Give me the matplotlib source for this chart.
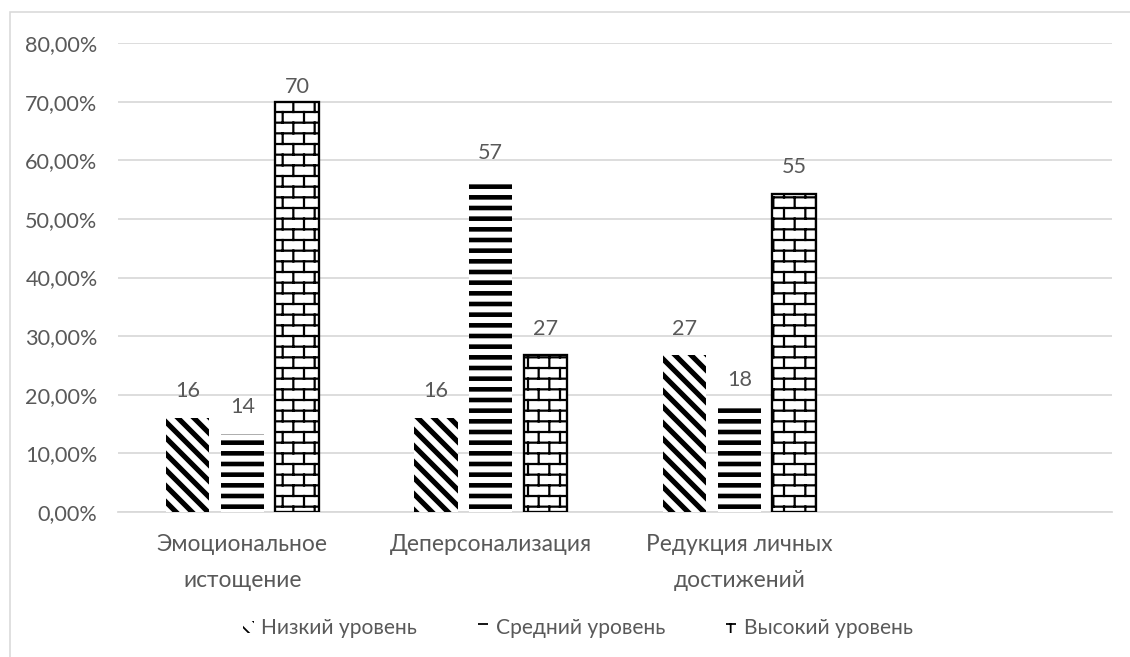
import warnings
warnings.filterwarnings("ignore")
import numpy as np
import matplotlib
matplotlib.use("Agg")
import matplotlib.pyplot as plt
from matplotlib import hatch as mhatch
from matplotlib.path import Path
from matplotlib.ticker import FuncFormatter
from matplotlib.patches import Rectangle

# ---------------- data ----------------
categories = ["Эмоциональное\nистощение", "Деперсонализация", "Редукция личных\nдостижений"]
series_names = ["Низкий уровень", "Средний уровень", "Высокий уровень"]
low_values = [16.0, 16.0, 26.7]
mid_values = [13.3, 56.7, 18.0]
high_values = [70.0, 26.7, 54.3]
low_labels = ["16", "16", "27"]
mid_labels = ["14", "57", "18"]
high_labels = ["70", "27", "55"]
y_ticks = [0, 10, 20, 30, 40, 50, 60, 70, 80]


# ---------------- custom hatches (Excel-like patterns) ----------------
class DiagHatch(mhatch.HatchPatternBase):
    """Thick lines from top-left to bottom-right ('d')."""
    def __init__(self, hatch, density):
        self.m = 8 * hatch.count('d')
        self.num_vertices = (2 * self.m + 1) * 2 if self.m else 0

    def set_vertices_and_codes(self, vertices, codes):
        c = np.arange(2 * self.m + 1) / self.m
        vertices[0::2, 0] = c - 1.5
        vertices[0::2, 1] = 1.5
        vertices[1::2, 0] = c + 1.5
        vertices[1::2, 1] = -1.5
        codes[0::2] = Path.MOVETO
        codes[1::2] = Path.LINETO


class HorizHatch(mhatch.HatchPatternBase):
    """Dense horizontal lines ('h')."""
    def __init__(self, hatch, density):
        self.n = 12 * hatch.count('h')
        self.num_vertices = self.n * 2

    def set_vertices_and_codes(self, vertices, codes):
        y = (np.arange(self.n) + 0.5) / self.n
        vertices[0::2, 0] = -0.1
        vertices[0::2, 1] = y
        vertices[1::2, 0] = 1.1
        vertices[1::2, 1] = y
        codes[0::2] = Path.MOVETO
        codes[1::2] = Path.LINETO


class BrickHatch(mhatch.HatchPatternBase):
    """Brick pattern ('b')."""
    def __init__(self, hatch, density):
        self.on = hatch.count('b') > 0
        self.rows = 12
        self.cols = 6
        self.num_vertices = (self.rows * 2 + (self.rows + 1) * self.cols * 2) if self.on else 0

    def set_vertices_and_codes(self, vertices, codes):
        pts = []
        for k in range(self.rows):
            y = (k + 0.5) / self.rows
            pts += [(-0.1, y), (1.1, y)]
        for k in range(-1, self.rows):
            y0 = (k + 0.5) / self.rows
            y1 = (k + 1.5) / self.rows
            off = 0.25 + 0.5 * (k % 2)
            for j in range(self.cols):
                x = (j + off) / self.cols
                pts += [(x, y0), (x, y1)]
        vertices[:] = np.array(pts)
        codes[0::2] = Path.MOVETO
        codes[1::2] = Path.LINETO


mhatch._hatch_types.extend([DiagHatch, HorizHatch, BrickHatch])

# ---------------- figure ----------------
DPI = 128
W, H = 1130, 657
fig = plt.figure(figsize=(W / DPI, H / DPI), dpi=DPI)
plt.rcParams['font.family'] = ['Lato', 'Open Sans', 'DejaVu Sans']
text_color = '#595959'
grid_color = '#d9d9d9'

ax = fig.add_axes([118 / W, 1 - 512 / H, (1112 - 118) / W, (512 - 43) / H])

x = np.arange(len(categories))
bw = 0.175
step = 0.221
YMAX = 0.8

styles = [
    dict(hatch='d', lw=0.0, hlw=2.9),
    dict(hatch='h', lw=0.0, hlw=2.6),
    dict(hatch='b', lw=1.3, hlw=1.25),
]
series_vals = [low_values, mid_values, high_values]
series_labels = [low_labels, mid_labels, high_labels]
containers = []
for i, (vals, st, name) in enumerate(zip(series_vals, styles, series_names)):
    with plt.rc_context({'hatch.linewidth': st['hlw']}):
        bc = ax.bar(x + (i - 1) * step, np.array(vals) / 100.0, width=bw,
                    facecolor='white', edgecolor='black', linewidth=st['lw'],
                    hatch=st['hatch'], label=name, zorder=3)
    for p in bc.patches:
        if hasattr(p, 'set_hatch_linewidth'):
            p.set_hatch_linewidth(st['hlw'])
    containers.append(bc)

# data labels: above bar, kept inside the plot area (as Excel does)
label_gap = 0.046
label_max = YMAX - 0.075
for bc, labs in zip(containers, series_labels):
    for p, lab in zip(bc.patches, labs):
        top = p.get_height()
        ycen = min(top + label_gap, label_max)
        ax.text(p.get_x() + p.get_width() / 2, ycen, lab, ha='center', va='center',
                fontsize=12.2, color=text_color, zorder=4)

ax.set_xlim(-0.5, 3.5)
ax.set_ylim(0, YMAX)
ax.set_yticks([t / 100 for t in y_ticks])
ax.yaxis.set_major_formatter(FuncFormatter(lambda v, p: f"{v * 100:.2f}%".replace('.', ',')))
ax.set_xticks(x)
ax.set_xticklabels(categories, fontsize=12.8, color=text_color, linespacing=1.85)
ax.tick_params(axis='y', length=0, pad=11.5, labelsize=12.2, labelcolor=text_color)
ax.tick_params(axis='x', length=0, pad=12.5, labelcolor=text_color)
ax.grid(axis='y', color=grid_color, linewidth=1.0, zorder=0)
ax.set_axisbelow(True)
for s in ['top', 'right', 'left']:
    ax.spines[s].set_visible(False)
ax.spines['bottom'].set_color(grid_color)
ax.spines['bottom'].set_linewidth(1.0)

leg = fig.legend(handles=containers, labels=series_names, loc='center',
                 bbox_to_anchor=(578 / W, 1 - 628 / H), ncol=3, frameon=False,
                 fontsize=11.8, handlelength=0.5, handleheight=0.5,
                 handletextpad=0.35, columnspacing=2.9)
for t in leg.get_texts():
    t.set_color(text_color)
handles = getattr(leg, 'legend_handles', None) or getattr(leg, 'legendHandles', [])
for h in handles:
    h.set_linewidth(0)

# outer chart border (extends past right/bottom edges like the reference)
fig.patches.append(Rectangle((10 / W, -0.1), 1.2, 1 - 12 / H + 0.1,
                             transform=fig.transFigure, fill=False,
                             edgecolor=grid_color, linewidth=0.9, zorder=0))

fig.savefig('out.png', dpi=DPI)
